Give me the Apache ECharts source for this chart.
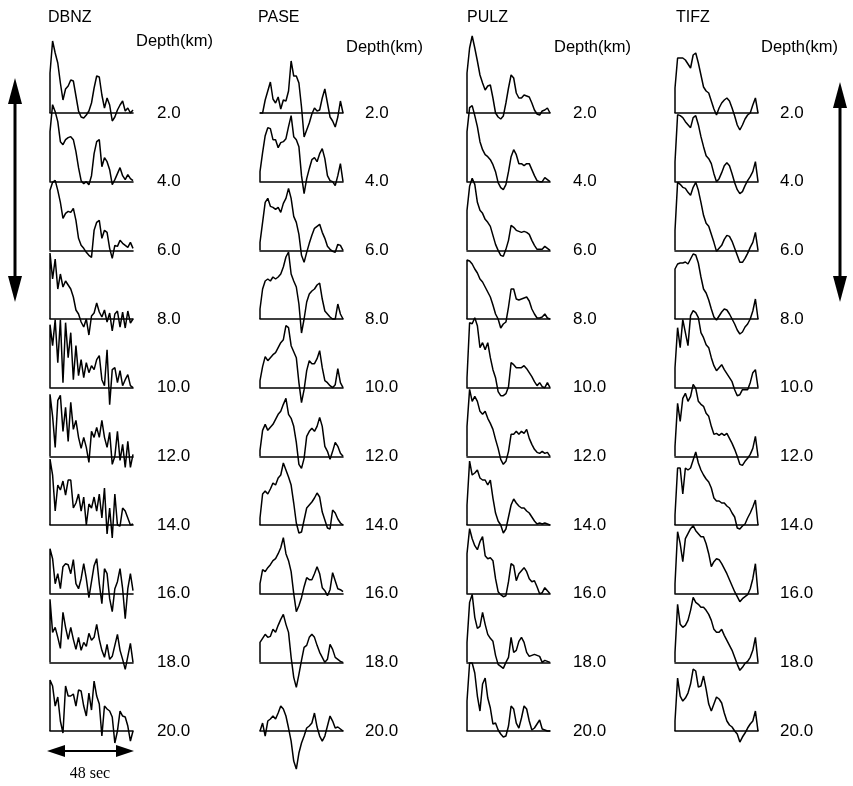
<!DOCTYPE html>
<html><head><meta charset="utf-8">
<script src="https://cdn.jsdelivr.net/npm/echarts@6/dist/echarts.min.js"></script>
<style>html,body{margin:0;padding:0;background:#fff}#c{width:853px;height:786px}</style>
</head><body><div id="c"></div>
<script>
// ---- data ----
const stations = ['DBNZ', 'PASE', 'PULZ', 'TIFZ'];
const depths = ['2.0', '4.0', '6.0', '8.0', '10.0', '12.0', '14.0', '16.0', '18.0', '20.0'];
const depthUnitLabel = 'Depth(km)';
const scaleLabel = '48 sec';
const traceDuration = 48;   // sec
const sampleStep = 1.5;     // sec between samples

const DBNZ = [
  [40,72,60,50,30,13,24,27,33,32,17,2,-4,-5,-2,2,10,25,37,36,18,5,15,8,-8,-4,3,8,12,2,5,0,3],
  [50,77,70,60,40,37,42,44,45,42,30,14,1,-2,0,-3,6,28,40,42,15,24,20,12,-3,2,8,14,6,2,7,3,1],
  [60,68,70,60,48,32,37,39,38,42,30,12,5,2,-2,-5,-7,20,28,30,12,20,18,2,-8,5,4,10,7,5,3,8,2],
  [66,40,60,30,45,32,38,34,30,22,9,5,-3,-8,0,-16,3,6,16,7,2,9,-3,6,-12,5,8,-8,7,-9,8,-4,0],
  [63,42,68,25,68,5,65,30,55,8,42,12,28,10,25,15,22,18,28,32,8,2,38,-17,18,20,5,17,2,8,13,2,0],
  [62,40,9,56,61,25,49,15,54,27,36,19,8,19,9,-6,25,19,29,19,36,19,9,24,-8,0,25,-4,12,-11,15,-11,2],
  [66,50,14,40,35,44,30,45,45,17,22,31,14,28,0,21,17,28,14,31,7,37,-9,17,-13,31,0,-1,17,14,7,0,1],
  [45,35,10,20,5,27,30,29,20,34,10,5,15,30,15,-4,12,28,35,10,-10,25,20,-5,-18,5,12,25,5,-25,5,20,3],
  [63,30,35,25,14,50,35,23,35,23,13,25,12,20,16,29,22,25,38,23,12,5,18,3,6,17,28,12,3,-7,6,19,0],
  [51,45,25,34,10,-2,45,35,35,37,25,41,40,25,15,38,21,50,35,27,-5,25,22,20,14,-12,0,20,15,14,5,-10,0]
];
const PASE = [
  [-2,0,13,22,31,14,10,16,4,13,12,22,52,37,37,30,6,-24,-17,-10,-1,5,2,3,15,24,10,-4,-8,-14,-4,12,0],
  [10,29,46,54,53,42,42,34,39,40,43,55,66,45,42,35,6,-12,3,13,22,24,20,28,33,23,6,1,0,-4,6,18,0],
  [8,28,48,52,44,43,41,43,38,47,52,62,52,34,28,16,-5,-12,-2,7,15,22,24,26,18,12,4,1,-1,-2,6,5,0],
  [10,30,38,40,38,42,40,42,45,52,62,67,45,38,32,15,-14,0,17,25,28,30,34,36,20,8,5,2,0,0,15,5,0],
  [7,21,31,27,30,33,35,40,45,48,62,60,42,36,30,5,-15,-2,17,27,24,24,29,37,20,7,5,2,0,3,19,5,0],
  [6,26,32,26,29,32,37,42,45,52,58,42,38,30,14,-8,-12,-2,20,25,28,25,30,39,30,10,5,-3,5,14,10,3,0],
  [7,31,34,31,36,42,40,47,50,62,55,48,40,22,2,-8,-7,5,17,20,23,27,32,28,13,5,-3,-4,15,12,6,2,0],
  [10,24,22,26,29,33,35,40,46,56,40,33,22,0,-18,-12,-4,7,16,14,14,20,27,20,6,3,-2,4,21,13,5,4,2],
  [20,24,28,25,26,33,30,37,43,48,38,30,5,-15,-25,-12,2,15,17,25,28,25,17,10,5,0,3,18,13,5,3,1,0],
  [0,8,-5,10,12,15,12,18,25,22,15,3,-10,-30,-38,-22,-12,-5,3,5,8,18,4,-5,-10,-5,5,15,10,3,4,2,0]
];
const PULZ = [
  [40,65,77,65,52,38,30,23,27,28,15,0,-4,-6,-3,10,25,38,35,20,15,15,18,17,16,10,3,-1,-2,2,3,5,0],
  [50,74,76,66,55,40,32,27,25,22,17,10,-1,-6,-8,-3,10,25,32,27,18,18,16,18,18,12,6,1,0,0,4,2,0],
  [40,64,72,66,48,40,37,31,28,24,15,6,0,-5,-6,1,10,25,23,20,19,18,19,18,16,10,5,1,1,1,4,2,0],
  [59,58,55,50,46,40,37,32,27,22,14,5,0,-9,-5,-3,12,30,30,20,19,20,21,22,18,10,5,1,1,2,5,1,0],
  [10,65,64,70,62,40,45,38,45,30,18,10,-4,-8,-8,-6,1,25,23,20,20,20,22,19,15,11,6,2,5,1,0,5,0],
  [30,67,55,60,55,45,42,45,38,33,27,17,8,-3,-8,-5,5,22,22,25,22,25,23,27,18,12,7,4,3,5,3,4,0],
  [20,64,50,52,55,47,45,45,40,45,27,12,4,0,-8,-4,8,20,26,22,19,17,17,14,12,8,4,1,2,1,2,1,0],
  [40,65,55,48,44,52,57,38,35,36,33,15,2,-1,-3,-2,12,30,28,13,20,23,26,22,15,12,13,7,0,1,6,3,0],
  [20,60,68,45,34,36,50,38,28,24,21,7,-2,-4,-6,0,5,25,10,12,21,25,20,10,6,7,8,7,6,0,2,1,0],
  [30,68,68,58,35,20,47,53,33,23,7,8,1,-3,-6,-5,5,25,22,8,3,13,25,22,10,1,3,7,11,2,1,0,0]
];
const TIFZ = [
  [25,55,55,55,53,49,45,58,60,50,38,26,22,20,12,4,-2,5,10,13,15,12,5,-3,-12,-17,-12,-6,-2,0,8,15,0],
  [20,67,66,64,60,57,54,64,66,57,45,35,26,23,18,8,0,3,9,16,19,16,8,-1,-8,-12,-10,-4,1,5,10,20,0],
  [20,68,66,63,62,58,55,63,68,60,48,35,27,24,16,8,-1,2,5,11,15,14,9,2,-5,-12,-12,-8,-3,3,8,18,0],
  [50,55,56,56,57,55,60,65,64,56,42,30,26,19,10,2,-1,3,7,10,9,5,0,-5,-11,-15,-13,-8,-5,0,8,20,0],
  [20,60,40,68,55,42,72,77,75,70,55,50,43,40,30,22,17,20,23,18,14,10,6,-2,-8,-7,-2,-2,-2,5,15,18,0],
  [10,53,35,58,63,55,60,72,68,55,52,50,43,40,30,22,23,21,23,21,23,18,13,7,0,-8,-9,-5,-2,2,8,20,0],
  [10,57,57,31,57,55,57,65,73,62,55,50,46,43,37,27,24,24,22,22,19,17,12,8,-3,-4,-1,1,7,12,18,25,0],
  [10,62,50,32,55,60,65,68,63,60,57,57,50,40,27,32,35,34,30,25,20,14,8,2,-3,-8,-5,-3,-1,5,15,30,0],
  [10,58,38,35,37,42,52,65,60,58,55,55,52,48,42,33,30,30,33,27,22,17,12,5,-2,-8,-5,-1,1,5,12,25,0],
  [10,53,35,30,33,38,47,62,60,44,45,55,42,27,20,27,34,32,28,18,10,6,4,0,-3,-11,-6,-2,3,7,10,20,0]
];
const stationTraces = [DBNZ, PASE, PULZ, TIFZ];

// ---- layout ----
const colLeft = [50, 260, 467, 675];
const colWidth = 83;
const firstBase = 113, rowGap = 68.67;
const yMin = -50, yMax = 80;       // amplitude range of each trace panel (1 unit ~ 1 px)
const headerX = [48, 258, 467, 676];
const depthTitlePos = [[136, 41], [346, 47], [554, 47], [761, 47]];
const depthLabelX = [157, 365, 573, 780];

const grids = [], xAxes = [], yAxes = [], series = [];
stationTraces.forEach((traces, c) => {
  traces.forEach((vals, r) => {
    const idx = grids.length;
    const base = firstBase + r * rowGap;
    grids.push({left: colLeft[c], width: colWidth, top: base - yMax, height: yMax - yMin});
    xAxes.push({gridIndex: idx, type: 'value', min: 0, max: traceDuration,
      axisLine: {show: true, onZero: true, lineStyle: {color: '#000', width: 1.6}},
      axisTick: {show: false}, axisLabel: {show: false}, splitLine: {show: false}});
    yAxes.push({gridIndex: idx, type: 'value', min: yMin, max: yMax, show: false, splitLine: {show: false}});
    const pts = [[0, 0]].concat(vals.map((v, i) => [i * sampleStep, v]));
    series.push({type: 'line', xAxisIndex: idx, yAxisIndex: idx, data: pts, symbol: 'none',
      clip: false, silent: true, lineStyle: {color: '#000', width: 1.5}});
  });
});

const txt = (x, y, s, size, extra) => Object.assign({type: 'text', x: x, y: y,
  style: {text: s, fill: '#000', font: size + 'px "Liberation Sans", Arial, sans-serif', textVerticalAlign: 'middle'}}, extra || {});
const graphics = [];
stations.forEach((s, c) => {
  graphics.push(txt(headerX[c], 18, s, 16));
  graphics.push(txt(depthTitlePos[c][0], depthTitlePos[c][1], depthUnitLabel, 16.5));
  depths.forEach((d, r) => graphics.push(txt(depthLabelX[c], firstBase + r * rowGap, d, 17)));
});
// arrows
function vArrow(x, y1, y2) {
  const hw = 7, hl = 26;
  graphics.push({type: 'line', shape: {x1: x, y1: y1 + hl - 4, x2: x, y2: y2 - hl + 4}, style: {stroke: '#000', lineWidth: 3}});
  graphics.push({type: 'polygon', shape: {points: [[x, y1], [x - hw, y1 + hl], [x + hw, y1 + hl]]}, style: {fill: '#000'}});
  graphics.push({type: 'polygon', shape: {points: [[x, y2], [x - hw, y2 - hl], [x + hw, y2 - hl]]}, style: {fill: '#000'}});
}
vArrow(15, 78, 302);
vArrow(840, 82, 302);
(function () {
  const y = 751, x1 = 47, x2 = 134, hw = 6, hl = 18;
  graphics.push({type: 'line', shape: {x1: x1 + hl - 2, y1: y, x2: x2 - hl + 2, y2: y}, style: {stroke: '#000', lineWidth: 2}});
  graphics.push({type: 'polygon', shape: {points: [[x1, y], [x1 + hl, y - hw], [x1 + hl, y + hw]]}, style: {fill: '#000'}});
  graphics.push({type: 'polygon', shape: {points: [[x2, y], [x2 - hl, y - hw], [x2 - hl, y + hw]]}, style: {fill: '#000'}});
  graphics.push({type: 'text', x: 90, y: 774, style: {text: scaleLabel, fill: '#000',
    font: '16px "Liberation Serif", "Times New Roman", serif', textAlign: 'center', textVerticalAlign: 'middle'}});
})();

const chart = echarts.init(document.getElementById('c'), null, {renderer: 'canvas'});
chart.setOption({animation: false, backgroundColor: '#fff', grid: grids, xAxis: xAxes, yAxis: yAxes,
  series: series, graphic: graphics});
</script></body></html>
